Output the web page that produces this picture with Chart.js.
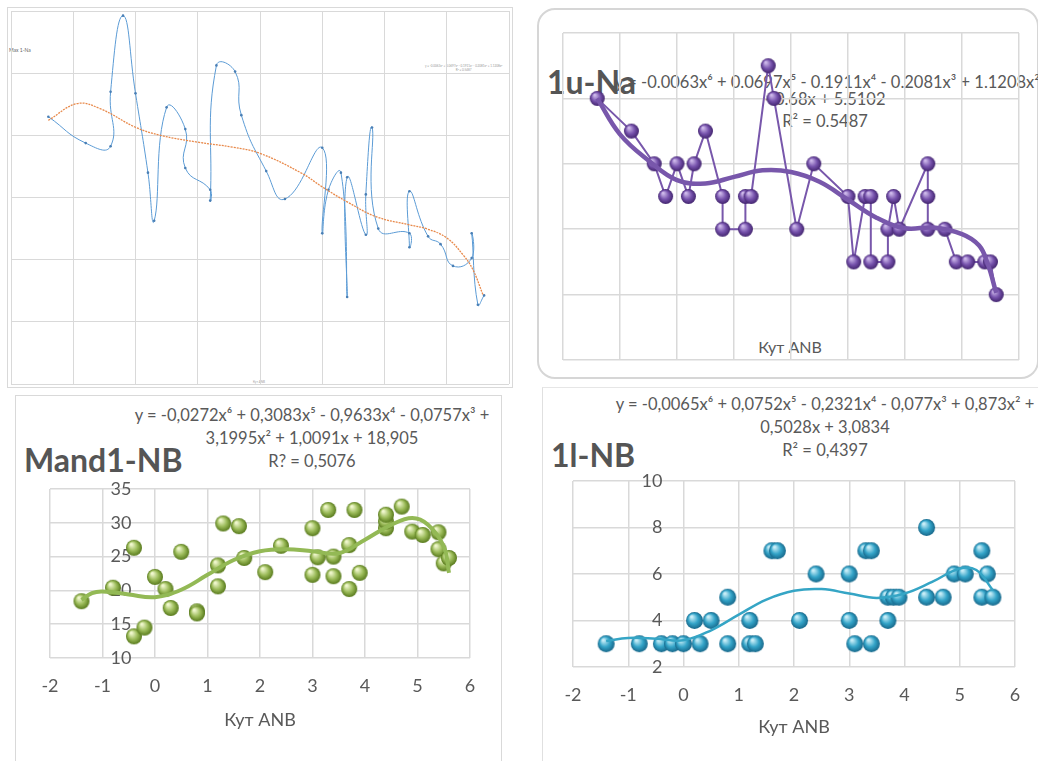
<!DOCTYPE html>
<html>
<head>
<meta charset="utf-8">
<script src="https://cdn.jsdelivr.net/npm/chart.js@4.4.0/dist/chart.umd.min.js"></script>
<style>
body{margin:0;background:#fff;width:1038px;height:761px;overflow:hidden;position:relative;font-family:Lato,'Open Sans',sans-serif}
canvas{position:absolute}
.frame{position:absolute;box-sizing:border-box}
.t{position:absolute;white-space:nowrap;color:#595959;text-align:center}
.title{position:absolute;white-space:nowrap;color:#555;font-weight:bold;font-size:32px;line-height:32px}
</style>
</head>
<body>

<div class="frame" style="left:7px;top:7px;width:506px;height:381px;border:1px solid #d9d9d9"></div>
<div class="frame" style="left:537px;top:8px;width:502px;height:371px;border:2px solid #d6d6d6;border-radius:18px"></div>
<div class="frame" style="left:15px;top:395px;width:487px;height:370px;border:1px solid #d9d9d9"></div>
<div class="frame" style="left:542px;top:387px;width:500px;height:380px;border-left:1px solid #e0e0e0;border-top:1px solid #e6e6e6"></div>

<!-- top-left small texts -->
<div class="t" style="left:9px;top:47px;font-size:5px;color:#666">Max 1-Na</div>
<div class="t" style="left:425px;top:64px;font-size:3px;line-height:4px;color:#999">y = -0.0063x⁶ + 0.0697x⁵ - 0.1911x⁴ - 0.2081x³ + 1.1208x²<br>R² = 0.5487</div>
<div class="t" style="left:253px;top:380px;font-size:3px;color:#999">Кут ANB</div>

<!-- 1u-Na texts -->
<div class="t" style="left:615px;width:420px;top:72px;font-size:16.5px;line-height:20px">y = -0.0063x⁶ + 0.0697x⁵ - 0.1911x⁴ - 0.2081x³ + 1.1208x²</div>
<div class="t" style="left:615px;width:420px;top:89px;font-size:16.5px;line-height:20px">- 0.68x + 5.5102</div>
<div class="t" style="left:615px;width:420px;top:111px;font-size:16.5px;line-height:20px">R² = 0.5487</div>
<div class="title" style="left:547px;top:66px">1u-Na</div>
<div class="t" style="left:690px;width:200px;top:337px;font-size:16px;line-height:20px">Кут ANB</div>

<!-- Mand1-NB texts -->
<div class="t" style="left:112px;width:400px;top:405px;font-size:16.5px;line-height:20px">y = -0,0272x⁶ + 0,3083x⁵ - 0,9633x⁴ - 0,0757x³ +</div>
<div class="t" style="left:112px;width:400px;top:428px;font-size:16.5px;line-height:20px">3,1995x² + 1,0091x + 18,905</div>
<div class="t" style="left:112px;width:400px;top:451px;font-size:16.5px;line-height:20px">R? = 0,5076</div>
<div class="title" style="left:24px;top:444px">Mand1-NB</div>

<!-- 1l-NB texts -->
<div class="t" style="left:615px;width:420px;top:394px;font-size:16.5px;line-height:20px">y = -0,0065x⁶ + 0,0752x⁵ - 0,2321x⁴ - 0,077x³ + 0,873x² +</div>
<div class="t" style="left:615px;width:420px;top:417px;font-size:16.5px;line-height:20px">0,5028x + 3,0834</div>
<div class="t" style="left:615px;width:420px;top:440px;font-size:16.5px;line-height:20px">R² = 0,4397</div>
<div class="title" style="left:551px;top:439px">1l-NB</div>

<canvas id="c1" width="506" height="381" style="left:7px;top:7px"></canvas>
<canvas id="c2" width="500" height="370" style="left:537px;top:8px"></canvas>
<canvas id="c3" width="487" height="366" style="left:15px;top:395px"></canvas>
<canvas id="c4" width="496" height="373" style="left:542px;top:388px"></canvas>

<script>
// top-left: Max 1-Na (smoothed line + trend)
const maxX = [-1.4,-0.8,-0.4,-0.4,-0.2,0,0.2,0.3,0.5,0.8,0.8,1.2,1.2,1.3,1.6,1.7,2.1,2.4,3.0,3.0,3.1,3.3,3.4,3.4,3.7,3.7,3.8,3.9,4.4,4.4,4.4,4.7,4.9,5.1,5.4,5.4,5.5,5.6]
const maxY = [8.6,7.75,7.65,9.4,11.85,9.35,6.8,5.25,8.9,8.2,6.95,6.25,5.9,10.25,10.05,8.65,6.85,5.95,7.6,4.85,6.25,6.8,2.8,6.65,4.8,6.1,8.25,5.0,4.85,4.4,6.2,4.75,4.5,3.8,4.05,4.85,2.55,2.85]
const maxTrendX = [-1.4,-0.94,-0.57,0,0.4,1,1.56,2,2.67,3,3.4,3.87,4.4,4.68,5,5.26,5.42,5.58]
const maxTrendY = [8.48,9.02,8.86,8.26,8.0,7.78,7.62,7.42,6.78,6.34,5.86,5.38,5.12,4.99,4.70,4.16,3.68,2.88]

// top-right: 1u-Na
const naX = [-1.4,-0.8,-0.4,-0.2,0,0.2,0.3,0.5,0.8,0.8,1.2,1.2,1.3,1.6,1.7,2.1,2.4,3.0,3.1,3.3,3.4,3.4,3.7,3.7,3.8,3.9,4.4,4.4,4.4,4.7,4.9,5.1,5.4,5.5,5.6]
const naY = [8,7,6,5,6,5,6,7,5,4,4,5,5,9,8,4,6,5,3,5,5,3,3,4,5,4,6,5,4,4,3,3,3,3,2]
const naTrendX = [-1.4,-1,-0.5,0,0.5,1,1.5,2,2.5,3,3.5,4,4.5,5,5.3,5.45,5.6]
const naTrendY = [8.0,6.9,6.1,5.5,5.4,5.6,5.8,5.75,5.45,4.9,4.35,4.03,4.05,3.85,3.5,2.95,2.05]

// bottom-left: Mand1-NB
const mandX = [-1.4,-0.8,-0.4,-0.4,-0.2,0,0.2,0.3,0.5,0.8,0.8,1.2,1.2,1.3,1.6,1.7,2.1,2.4,3.0,3.0,3.1,3.3,3.4,3.4,3.7,3.7,3.8,3.9,4.4,4.4,4.4,4.7,4.9,5.1,5.4,5.4,5.5,5.6]
const mandY = [18.4,20.4,26.3,13.2,14.5,22.0,20.2,17.4,25.7,16.9,16.6,20.6,23.7,29.9,29.5,24.8,22.7,26.6,29.2,22.3,24.9,31.9,25.0,22.1,20.2,26.7,31.9,22.6,29.2,30.2,31.2,32.4,28.7,28.2,28.6,26.1,24.0,24.8]
const mandTrendX = [-1.4,-1.2,-1,-0.5,0,0.5,1,1.5,2,2.5,3,3.5,4,4.5,4.9,5.2,5.5,5.6]
const mandTrendY = [18.6,19.6,19.85,19.4,19.0,20.1,22.3,24.5,25.8,26.1,25.8,25.5,27.5,29.7,30.7,29.7,26.5,22.6]

// bottom-right: 1l-NB
const lnbX = [-1.4,-0.8,-0.4,-0.2,0,0.2,0.3,0.5,0.8,0.8,1.2,1.2,1.3,1.6,1.7,2.1,2.4,3.0,3.0,3.1,3.3,3.4,3.4,3.7,3.7,3.8,3.9,4.4,4.4,4.7,4.9,5.1,5.4,5.4,5.5,5.6]
const lnbY = [3,3,3,3,3,4,3,4,3,5,4,3,3,7,7,4,6,6,4,3,7,7,3,4,5,5,5,8,5,5,6,6,7,5,6,5]
const lnbTrendX = [-1.4,-1,-0.5,0,0.5,1,1.5,2,2.5,3,3.5,4,4.5,5,5.3,5.6]
const lnbTrendY = [3.12,3.25,3.22,3.15,3.58,4.25,4.9,5.28,5.35,5.16,4.97,5.16,5.66,6.24,6.17,5.3]

const xTitle = 'Кут ANB'
const gridCol = '#d9d9d9'
const txtCol = '#595959'

function pts(xs, ys) { return xs.map((x, i) => ({x, y: ys[i]})) }

// shaded ball used as point style
function ball(r, hi, mid, lo) {
  const c = document.createElement('canvas')
  const s = Math.ceil(r * 2 + 2)
  c.width = c.height = s
  const g = c.getContext('2d')
  const m = s / 2
  const grad = g.createRadialGradient(m - r * 0.35, m - r * 0.45, r * 0.1, m, m, r)
  grad.addColorStop(0, hi); grad.addColorStop(0.55, mid); grad.addColorStop(1, lo)
  g.fillStyle = grad
  g.beginPath(); g.arc(m, m, r, 0, Math.PI * 2); g.fill()
  return c
}

function opts(o) {
  const tickFont = {family: 'Lato', size: 18}
  return {
    animation: false, responsive: false,
    layout: {padding: o.pad},
    plugins: {legend: {display: false}, tooltip: {enabled: false}},
    scales: {
      x: {
        type: 'linear', min: -2, max: 6,
        ticks: {stepSize: 1, display: o.labels, color: txtCol, font: tickFont, padding: 17.2},
        grid: {color: gridCol, lineWidth: o.gw || 1, drawTicks: false},
        border: {display: false},
        title: {display: o.labels, text: xTitle, color: txtCol, font: {family: 'Lato', size: 18, lineHeight: o.tlh}, padding: {top: 0, bottom: 4}}
      },
      y: {
        type: 'linear', min: o.ymin, max: o.ymax,
        position: o.labels ? {x: o.yAt} : 'left',
        ticks: {stepSize: o.ystep, display: o.labels, color: txtCol, font: tickFont},
        grid: {color: gridCol, lineWidth: o.gw || 1, drawTicks: false},
        border: {display: false}
      }
    }
  }
}

try {
  new Chart(document.getElementById('c1'), {
    type: 'scatter',
    data: {datasets: [
      {data: pts(maxTrendX, maxTrendY), showLine: true, borderColor: '#E8894A', borderWidth: 1.3, borderDash: [2, 1], pointRadius: 0, tension: 0.4},
      {data: pts(maxX, maxY), showLine: true, borderColor: '#5B9BD5', borderWidth: 1, pointRadius: 1.3, pointBackgroundColor: '#4a7fb5', pointBorderWidth: 0, tension: 0.5}
    ]},
    options: opts({pad: {left: 4, top: 3, right: 3, bottom: 3}, labels: false, ymin: 0, ymax: 12, ystep: 2})
  })

  const purple = ball(7.5, '#cdb8ea', '#7652ac', '#43256f')
  new Chart(document.getElementById('c2'), {
    type: 'scatter',
    data: {datasets: [
      {data: pts(naTrendX, naTrendY), showLine: true, borderColor: '#7857ab', borderWidth: 4.5, pointRadius: 0, tension: 0.4},
      {data: pts(naX, naY), showLine: true, borderColor: '#7857ab', borderWidth: 2, pointRadius: 7.5, pointStyle: purple, tension: 0}
    ]},
    options: opts({pad: {left: 26, top: 25, right: 18, bottom: 18}, labels: false, ymin: 0, ymax: 10, ystep: 2, gw: 1.5})
  })

  const green = ball(8, '#f1f8cf', '#9bbb59', '#587a1c')
  new Chart(document.getElementById('c3'), {
    type: 'scatter',
    data: {datasets: [
      {data: pts(mandTrendX, mandTrendY), showLine: true, borderColor: '#93b955', borderWidth: 4, pointRadius: 0, tension: 0.4},
      {data: pts(mandX, mandY), pointRadius: 8, pointStyle: green}
    ]},
    options: opts({pad: {left: 35, top: 94, right: 32, bottom: 31}, labels: true, ymin: 10, ymax: 35, ystep: 5, gw: 1.5, tlh: '12px', yAt: -0.45})
  })

  const teal = ball(8.5, '#c9eef8', '#33a4c8', '#17678a')
  new Chart(document.getElementById('c4'), {
    type: 'scatter',
    data: {datasets: [
      {data: pts(lnbTrendX, lnbTrendY), showLine: true, borderColor: '#35a5c5', borderWidth: 2.5, pointRadius: 0, tension: 0.4},
      {data: pts(lnbX, lnbY), pointRadius: 8.5, pointStyle: teal}
    ]},
    options: opts({pad: {left: 31, top: 93, right: 23, bottom: 26}, labels: true, ymin: 2, ymax: 10, ystep: 2, gw: 1.5, tlh: '8px', yAt: -0.38})
  })
} catch (e) {
  console.error('Chart init error:', e)
}
</script>
</body>
</html>
